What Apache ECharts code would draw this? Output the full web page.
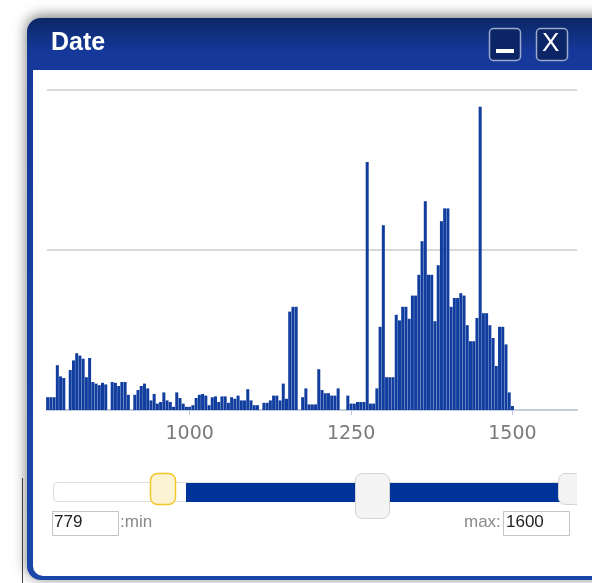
<!DOCTYPE html>
<html>
<head>
<meta charset="utf-8">
<script src="https://cdn.jsdelivr.net/npm/echarts@6/dist/echarts.min.js"></script>
<style>
  html, body { margin: 0; padding: 0; background: #fff; }
  #chart { width: 592px; height: 583px; }
</style>
</head>
<body>
<div id="chart"></div>
<script>
// 直方图数据: 每 5 年一个桶 (起始年份 780)
const binStart = 780
const binStep = 5
const counts = [
  1.6, 1.6, 1.6, 5.6, 4.2, 4.0, 0, 5.0, 6.2, 7.1,
  6.8, 6.4, 4.1, 6.5, 3.5, 3.3, 3.1, 3.4, 3.2, 0,
  3.5, 3.4, 3.0, 3.5, 3.5, 1.9, 0, 1.9, 2.5, 3.0,
  3.3, 2.7, 1.2, 2.0, 0.8, 1.0, 2.2, 1.2, 1.0, 0.4,
  2.2, 1.5, 0.8, 0.4, 0.4, 0.6, 1.5, 1.9, 2.0, 1.8,
  0.6, 1.6, 1.7, 1.0, 1.7, 1.7, 0.9, 1.6, 1.4, 1.8,
  1.2, 1.2, 2.6, 1.2, 0.6, 0.6, 0, 0.9, 0.9, 1.2,
  1.8, 1.8, 1.2, 3.3, 1.4, 12.3, 12.9, 12.9, 0, 1.6,
  2.7, 0.7, 0.7, 0.7, 5.1, 2.5, 2.1, 2.1, 1.8, 1.8,
  2.7, 0, 0, 1.8, 0.8, 0.8, 1.0, 1.0, 1.0, 31,
  0.8, 0.8, 2.7, 10.4, 23.1, 4.1, 4.1, 4.1, 11.9, 11.2,
  12.9, 12.9, 11.4, 14.3, 14.3, 16.9, 21.1, 26.1, 16.9, 16.9,
  11.1, 18.1, 23.6, 25.2, 25.2, 12.9, 14.0, 14.0, 14.6, 14.3,
  10.6, 8.6, 8.6, 11.5, 37.9, 12.1, 12.1, 10.6, 9.0, 5.5,
  10.4, 10.4, 8.2, 2.2, 0.5
]
const xTicks = [1000, 1250, 1500]
const xMin = 779
const xMax = 1600
const sliderMin = '779'
const sliderMax = '1600'

const barData = counts.map((v, i) => [binStart + i * binStep, v])

const blue = '#103d9e'
const uiFont = '17px "Liberation Sans", Arial, sans-serif'

const option = {
  animation: false,
  grid: { left: 47, right: 15, top: 90, bottom: 173 },
  xAxis: {
    type: 'value',
    min: xMin,
    max: xMax,
    axisLine: { show: true, lineStyle: { color: '#c4cddd', width: 2 } },
    axisTick: { show: true, customValues: xTicks, length: 5, lineStyle: { color: '#bcc7da' } },
    axisLabel: {
      customValues: xTicks,
      formatter: v => String(v),
      margin: 15,
      fontFamily: 'DejaVu Sans',
      fontSize: 19,
      color: '#7a7a7a'
    },
    splitLine: { show: false }
  },
  yAxis: {
    type: 'value',
    min: 0,
    max: 40,
    interval: 20,
    axisLine: { show: false },
    axisTick: { show: false },
    axisLabel: { show: false },
    splitLine: { show: true, lineStyle: { color: '#d9d9d9', width: 2 } }
  },
  series: [{
    type: 'bar',
    data: barData,
    barWidth: 3,
    itemStyle: { color: blue },
    z: 3
  }],
  graphic: [
    // 背后的阴影 + 窗口框
    { type: 'line', z: -3, shape: { x1: 22.5, y1: 478, x2: 22.5, y2: 583 }, style: { stroke: '#444', lineWidth: 1 } },
    {
      type: 'rect', z: -2,
      shape: { x: 27, y: 18, width: 600, height: 562, r: 14 },
      style: {
        fill: new echarts.graphic.LinearGradient(0, 0, 0, 1, [
          { offset: 0, color: '#0b2765' },
          { offset: 0.06, color: '#15389a' },
          { offset: 1, color: '#1a47a8' }
        ]),
        shadowBlur: 14, shadowColor: 'rgba(0,0,0,0.55)', shadowOffsetY: -2
      }
    },
    {
      type: 'rect', z: -1,
      shape: { x: 33, y: 70, width: 600, height: 506, r: [0, 0, 0, 10] },
      style: { fill: '#ffffff' }
    },
    {
      type: 'text', z: 5, left: 51, top: 31,
      style: { text: 'Date', fill: '#ffffff', font: 'bold 25px "Liberation Sans", Arial, sans-serif' }
    },
    // 标题栏按钮
    {
      type: 'rect', z: 5,
      shape: { x: 489.5, y: 28.5, width: 31, height: 32, r: 4 },
      style: { fill: '#0c2566', stroke: '#9aa9cc', lineWidth: 1.5 }
    },
    {
      type: 'rect', z: 6,
      shape: { x: 496, y: 49, width: 18, height: 4 },
      style: { fill: '#ffffff' }
    },
    {
      type: 'rect', z: 5,
      shape: { x: 536.5, y: 28.5, width: 31, height: 32, r: 4 },
      style: { fill: '#0c2566', stroke: '#9aa9cc', lineWidth: 1.5 }
    },
    {
      type: 'text', z: 6, left: 542, top: 31,
      style: { text: 'X', fill: '#ffffff', font: '26px "Liberation Sans", Arial, sans-serif' }
    },
    // 滑块
    {
      type: 'rect', z: 5,
      shape: { x: 53.5, y: 482.5, width: 522, height: 19, r: 4 },
      style: { fill: '#ffffff', stroke: '#dedede', lineWidth: 1 }
    },
    {
      type: 'rect', z: 6,
      shape: { x: 186, y: 483, width: 374, height: 19 },
      style: { fill: '#003399' }
    },
    {
      type: 'rect', z: 7,
      shape: { x: 150.5, y: 473.5, width: 25, height: 31, r: 7 },
      style: { fill: '#fcf3d2', stroke: '#f2c72a', lineWidth: 1.5 }
    },
    {
      type: 'rect', z: 7,
      shape: { x: 355.5, y: 473.5, width: 34, height: 45, r: 7 },
      style: { fill: '#f4f4f4', stroke: '#d2d2d2', lineWidth: 1 }
    },
    {
      type: 'rect', z: 7,
      shape: { x: 558.5, y: 473.5, width: 30, height: 31, r: 7 },
      style: { fill: '#f4f4f4', stroke: '#d2d2d2', lineWidth: 1 }
    },
    {
      type: 'rect', z: 8,
      shape: { x: 577, y: 470, width: 20, height: 40 },
      style: { fill: '#ffffff' }
    },
    // 最小/最大输入框
    {
      type: 'rect', z: 5,
      shape: { x: 52.5, y: 511.5, width: 66, height: 24 },
      style: { fill: '#ffffff', stroke: '#c4c4c4', lineWidth: 1 }
    },
    {
      type: 'text', z: 6, left: 54, top: 514,
      style: { text: sliderMin, fill: '#222', font: uiFont }
    },
    {
      type: 'text', z: 6, left: 120, top: 514,
      style: { text: ':min', fill: '#8a8a8a', font: uiFont }
    },
    {
      type: 'text', z: 6, left: 464, top: 514,
      style: { text: 'max:', fill: '#8a8a8a', font: uiFont }
    },
    {
      type: 'rect', z: 5,
      shape: { x: 503.5, y: 511.5, width: 66, height: 24 },
      style: { fill: '#ffffff', stroke: '#c4c4c4', lineWidth: 1 }
    },
    {
      type: 'text', z: 6, left: 506, top: 514,
      style: { text: sliderMax, fill: '#222', font: uiFont }
    }
  ]
}

const myChart = echarts.init(document.getElementById('chart'))
myChart.setOption(option)
</script>
</body>
</html>
